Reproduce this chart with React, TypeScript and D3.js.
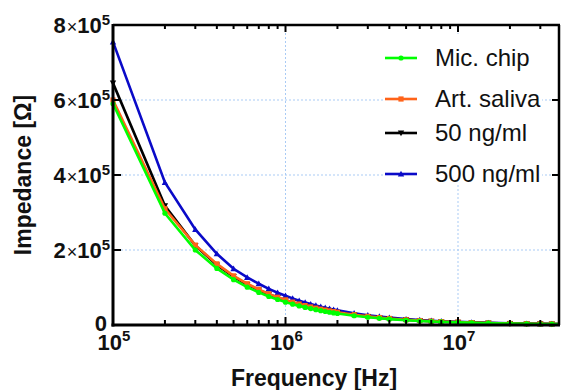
import React from "react";
import * as d3 from "d3";

// frequencies [Hz]
const freqs = [
  1e5, 2e5, 3e5, 4e5, 5e5, 6e5, 7e5, 8e5, 9e5, 1e6,
  1.1e6, 1.2e6, 1.3e6, 1.4e6, 1.5e6, 1.6e6, 1.7e6, 1.8e6, 1.9e6, 2e6,
  2.5e6, 3e6, 3.5e6, 4e6, 5e6, 6e6, 7e6, 8e6, 1e7, 1.2e7,
  1.5e7, 2e7, 2.5e7, 3e7, 3.5e7, 4e7,
];

const micChip = [
  590000, 298000, 200000, 151000, 121000, 101000, 87000, 76000, 68000, 61000,
  55500, 51000, 47000, 43700, 40800, 38300, 36000, 34000, 32300, 30700,
  24700, 20700, 17800, 15600, 12600, 10600, 9200, 8100, 7000, 5900,
  4800, 3700, 3100, 2700, 2400, 2200,
];

const artSaliva = [
  600000, 310000, 213000, 163000, 131000, 110000, 95000, 83000, 74000, 67000,
  61000, 56000, 51800, 48200, 45000, 42200, 39800, 37600, 35700, 34000,
  27500, 23000, 19800, 17400, 14000, 11800, 10200, 9000, 7600, 6400,
  5200, 4100, 3400, 3000, 2700, 2400,
];

const ng50 = [
  645000, 318000, 212000, 160000, 129000, 108000, 93500, 82000, 73000, 66000,
  60000, 55000, 51000, 47400, 44300, 41500, 39100, 37000, 35100, 33400,
  27000, 22600, 19500, 17100, 13800, 11600, 10000, 8800, 7400, 6300,
  5100, 4000, 3300, 2900, 2600, 2300,
];

const ng500 = [
  755000, 380000, 255000, 190000, 150000, 127000, 110000, 96500, 86000, 78000,
  71000, 65000, 60000, 55800, 52000, 48800, 46000, 43400, 41100, 39000,
  31400, 26200, 22500, 19700, 15800, 13200, 11400, 10000, 8300, 6900,
  5600, 4300, 3600, 3100, 2800, 2500,
];

const yTicks = [0, 2e5, 4e5, 6e5, 8e5];
const xMajor = [1e5, 1e6, 1e7];
const xMinor = [
  2e5, 3e5, 4e5, 5e5, 6e5, 7e5, 8e5, 9e5,
  2e6, 3e6, 4e6, 5e6, 6e6, 7e6, 8e6, 9e6,
  2e7, 3e7,
];

const series = [
  { name: "Mic. chip", values: micChip, color: "#00ff00", marker: "circle" },
  { name: "Art. saliva", values: artSaliva, color: "#ff6319", marker: "square" },
  { name: "50 ng/ml", values: ng50, color: "#000000", marker: "down" },
  { name: "500 ng/ml", values: ng500, color: "#0a0ac8", marker: "up" },
];

const FONT = "'Liberation Sans', Arial, Helvetica, sans-serif";

const left = 113;
const right = 559;
const top = 25;
const bottom = 325;

const x = d3.scaleLog().domain([1e5, 3.85e7]).range([left, right]);
const y = d3.scaleLinear().domain([0, 8e5]).range([bottom, top]);

function Marker({ type, cx, cy, color }: { type: string; cx: number; cy: number; color: string }) {
  if (type === "circle") return <circle cx={cx} cy={cy} r={2.6} fill={color} />;
  if (type === "square")
    return <rect x={cx - 2.6} y={cy - 2.6} width={5.2} height={5.2} fill={color} />;
  const s = 3.2;
  const pts =
    type === "up"
      ? [[cx - s, cy + s * 0.8], [cx + s, cy + s * 0.8], [cx, cy - s]]
      : [[cx - s, cy - s * 0.8], [cx + s, cy - s * 0.8], [cx, cy + s]];
  return <polygon points={pts.map((p) => p.join(",")).join(" ")} fill={color} />;
}

const legendRows = [
  { ly: 58, ty: 66 },
  { ly: 99, ty: 107 },
  { ly: 133, ty: 141 },
  { ly: 174, ty: 182 },
];

export default function App() {
  const line = d3
    .line<number>()
    .x((_, i) => x(freqs[i]))
    .y((d) => y(d));

  const drawOrder = [...series].reverse();

  return (
    <div style={{ position: "fixed", left: 0, top: 0 }}>
      <svg width={562} height={390} style={{ display: "block", background: "#fff" }}>
        <defs>
          <clipPath id="plotClip">
            <rect x={95} y={0} width={right - 95} height={bottom + 10} />
          </clipPath>
        </defs>

        {/* gridlines */}
        <g stroke="#a9cbf5" strokeWidth={1} strokeDasharray="2,2">
          {yTicks.slice(1, -1).map((t) => (
            <line key={t} x1={left} x2={right} y1={y(t)} y2={y(t)} />
          ))}
          {xMajor.slice(1).map((t) => (
            <line key={t} x1={x(t)} x2={x(t)} y1={top} y2={bottom} />
          ))}
        </g>

        {/* legend background */}
        <rect x={383} y={34} width={159} height={150} fill="#fff" />

        {/* series */}
        <g clipPath="url(#plotClip)">
          {drawOrder.map((s) => (
            <g key={s.name}>
              <path d={line(s.values) || ""} fill="none" stroke={s.color} strokeWidth={2.6} />
              {s.values.map((v, i) => (
                <Marker key={i} type={s.marker} cx={x(freqs[i])} cy={y(v)} color={s.color} />
              ))}
            </g>
          ))}
        </g>

        {/* frame */}
        <g stroke="#000" fill="none">
          <line x1={left} x2={left} y1={top - 1} y2={bottom + 1.5} strokeWidth={3} />
          <line x1={left - 1.5} x2={right + 1} y1={bottom} y2={bottom} strokeWidth={3} />
          <line x1={left} x2={right + 1} y1={top} y2={top} strokeWidth={2.5} />
          <line x1={right} x2={right} y1={top} y2={bottom} strokeWidth={2.5} />
        </g>

        {/* ticks */}
        <g stroke="#000" strokeWidth={2}>
          {yTicks.slice(1, -1).map((t) => (
            <g key={t}>
              <line x1={left} x2={left + 8} y1={y(t)} y2={y(t)} />
              <line x1={right} x2={right - 7} y1={y(t)} y2={y(t)} />
            </g>
          ))}
          {xMajor.slice(1).map((t) => (
            <g key={t}>
              <line x1={x(t)} x2={x(t)} y1={bottom} y2={bottom - 8} />
              <line x1={x(t)} x2={x(t)} y1={top} y2={top + 7} />
            </g>
          ))}
          {xMinor.map((t) => (
            <g key={t}>
              <line x1={x(t)} x2={x(t)} y1={bottom} y2={bottom - 5} />
              <line x1={x(t)} x2={x(t)} y1={top} y2={top + 4} />
            </g>
          ))}
        </g>

        {/* y tick labels */}
        <g fontFamily={FONT} fontWeight="bold" fontSize={22} fill="#111">
          {yTicks.map((t) =>
            t === 0 ? (
              <text key={t} x={107} y={y(t) + 6} textAnchor="end">
                0
              </text>
            ) : (
              <text key={t} x={110} y={y(t) + 8} textAnchor="end">
                <tspan>{t / 1e5}</tspan>
                <tspan fontWeight="normal" fontSize={18} dx={1}>×</tspan>
                <tspan>10</tspan>
                <tspan dy={-8} fontSize={15}>5</tspan>
              </text>
            )
          )}
        </g>

        {/* x tick labels */}
        <g fontFamily={FONT} fontWeight="bold" fontSize={22} fill="#111">
          {xMajor.map((t) => (
            <text key={t} x={x(t) + 1} y={350} textAnchor="middle">
              <tspan>10</tspan>
              <tspan dy={-9} fontSize={15}>{Math.round(Math.log10(t))}</tspan>
            </text>
          ))}
        </g>

        {/* axis titles */}
        <text
          x={314}
          y={386}
          textAnchor="middle"
          fontFamily={FONT}
          fontWeight="bold"
          fontSize={23}
          fill="#111"
        >
          Frequency [Hz]
        </text>
        <text
          transform="translate(31,175) rotate(-90)"
          textAnchor="middle"
          fontFamily={FONT}
          fontWeight="bold"
          fontSize={23}
          fill="#111"
        >
          Impedance [Ω]
        </text>

        {/* legend */}
        {series.map((s, i) => (
          <g key={s.name}>
            <line
              x1={385}
              x2={417}
              y1={legendRows[i].ly}
              y2={legendRows[i].ly}
              stroke={s.color}
              strokeWidth={2.6}
            />
            <Marker type={s.marker} cx={401} cy={legendRows[i].ly} color={s.color} />
            <text
              x={435}
              y={legendRows[i].ty}
              fontFamily={FONT}
              fontSize={24}
              fill="#111"
            >
              {s.name}
            </text>
          </g>
        ))}
      </svg>
    </div>
  );
}
